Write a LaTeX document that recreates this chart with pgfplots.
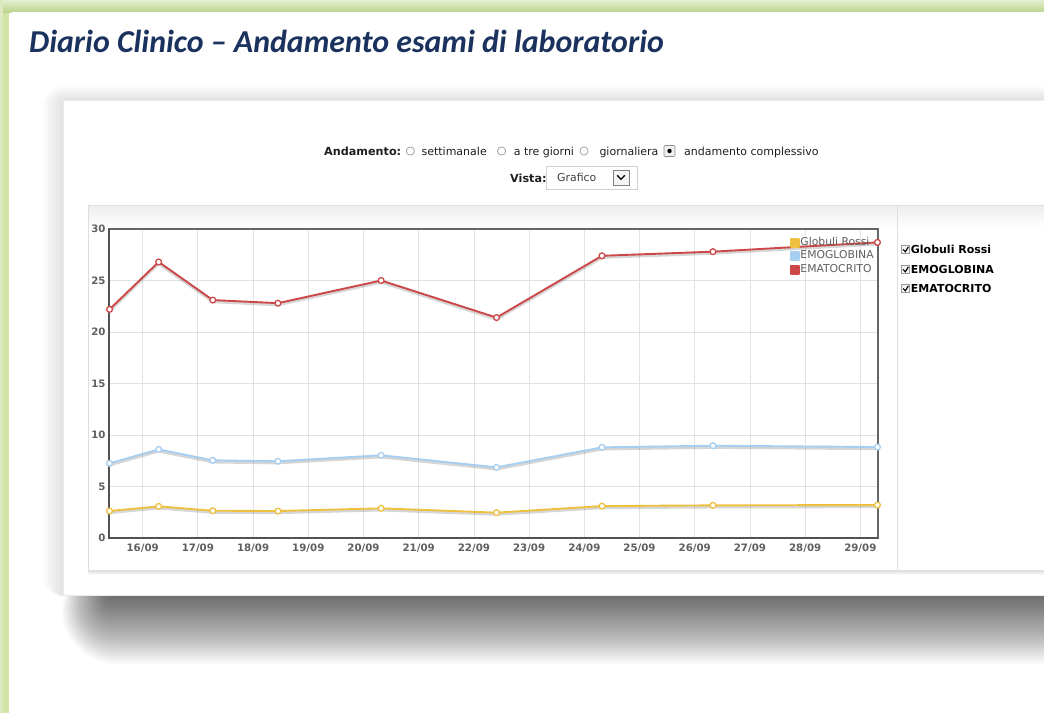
\documentclass[border=0pt]{standalone}
\usepackage{pgfplots}
\pgfplotsset{compat=1.18}
\usepackage{pgfplotstable}
\usepackage{fontspec}
\setmainfont{DejaVu Sans}
\newfontfamily\titlefont{Carlito}
\newcommand\fs[1]{\fontsize{#1}{#1}\selectfont}
\definecolor{titleblue}{RGB}{27,50,94}
\definecolor{cred}{RGB}{204,72,72}
\definecolor{cblue}{RGB}{166,206,240}
\definecolor{cyellow}{RGB}{238,192,64}
\definecolor{gline}{RGB}{226,226,226}
\definecolor{txtgray}{RGB}{95,95,95}
\definecolor{greenA}{RGB}{228,238,210}
\definecolor{greenB}{RGB}{188,213,140}
\definecolor{greenC}{RGB}{210,229,168}
\definecolor{panelborder}{RGB}{222,222,222}

\pgfplotstableread{
x y
15.40 2.62
16.29 3.07
17.27 2.65
18.45 2.62
20.32 2.88
22.41 2.46
24.32 3.10
26.33 3.17
29.31 3.20
}\globuli
\pgfplotstableread{
x y
15.40 7.25
16.29 8.60
17.27 7.54
18.45 7.45
20.32 8.03
22.41 6.86
24.32 8.80
26.33 8.96
29.31 8.83
}\emoglobina
\pgfplotstableread{
x y
15.40 22.2
16.29 26.8
17.27 23.1
18.45 22.8
20.32 25.0
22.41 21.4
24.32 27.4
26.33 27.8
29.31 28.7
}\ematocrito

\begin{document}
\begin{tikzpicture}
\useasboundingbox (0pt,0pt) rectangle (1044pt,-713pt);
\begin{scope}[x=1pt,y=-1pt]
  % page background and green frame
  \fill[white] (0,0) rectangle (1044,713);
  \fill[greenC] (0,0) rectangle (9,713);
  \shade[top color=greenA, bottom color=greenB] (0,0) rectangle (1044,12);
  \fill[greenA!60!greenC] (0,0) rectangle (3,713);
  \fill[white, rounded corners=4pt] (9,12) rectangle (1060,730);
  % title
  \node[anchor=base west, inner sep=0pt, text=titleblue] at (29,52.7)
    {\titlefont\fs{31.9}\bfseries\itshape Diario Clinico – Andamento esami di laboratorio};
  % panel shadow: soft layers
  \foreach \i in {1,...,44} {
    \fill[black, opacity=0.0142, rounded corners=1.25*\i pt]
      ({110-1.1*\i},560) rectangle (1140,{596+1.55*\i});
  }
  \foreach \i in {1,...,14} {
    \fill[black, opacity=0.008, rounded corners=1.5*\i pt]
      ({63-1.5*\i},{100-1*\i}) rectangle (1140,596);
  }
  % white panel
  \fill[white] (63,100) rectangle (1050,595);
  \draw[black!8] (63,100) rectangle (1050,595);
  % controls
  \begin{scope}[every node/.style={inner sep=0pt, anchor=base west, text=black!88}]
    \node at (324,155) {\fs{11.2}\bfseries Andamento:};
    \node at (421.4,155) {\fs{11}settimanale};
    \node at (513.6,155) {\fs{11}a tre giorni};
    \node at (599.3,155) {\fs{11}giornaliera};
    \node at (684,155) {\fs{11}andamento complessivo};
    \node at (510,182) {\fs{11.2}\bfseries Vista:};
  \end{scope}
  \foreach \cx in {410.3,501.6,584} {
    \draw[black!45, line width=0.6pt, fill=white] (\cx,151) circle (4.1pt);
  }
  \draw[black!45, fill=black!6, line width=0.6pt, rounded corners=1pt] (664,145.5) rectangle (675,156.5);
  \fill[black] (669.5,151) circle (2.2pt);
  % dropdown
  \draw[black!18, fill=white, line width=0.6pt] (546,166) rectangle (637,189);
  \node[inner sep=0pt, anchor=base west, text=black!75] at (557,181.5) {\fs{10.9}Grafico};
  \draw[black!50, fill=black!4, line width=0.6pt] (613,170) rectangle (629,185);
  \draw[black, line width=1.3pt] (617.2,175.3) -- (621,179.3) -- (624.8,175.3);
  % chart panel
  \fill[white] (88,205) rectangle (1050,570);
  \shade[top color=black!7, bottom color=white] (88,205) rectangle (1050,228);
  \shade[top color=black!14, bottom color=white] (88,570) rectangle (1050,575);
  \draw[panelborder, line width=0.8pt] (88,205) rectangle (1050,570);
  \draw[panelborder, line width=0.8pt] (897.5,205) -- (897.5,570);
  % right checkboxes
  \foreach \cy/\lab in {249.7/Globuli Rossi, 269.7/EMOGLOBINA, 288.7/EMATOCRITO} {
    \draw[black!40, fill=black!5, line width=0.5pt] (901.7,\cy-4) rectangle (909.5,\cy+3.8);
    \draw[black, line width=1.1pt] (903.1,\cy-0.3) -- (905.3,\cy+2.1) -- (908.4,\cy-2.9);
    \node[inner sep=0pt, anchor=base west, text=black] at (910.7,\cy+4) {\fs{11}\bfseries \lab};
  }
\end{scope}

\begin{axis}[
  at={(109pt,-538pt)}, anchor=south west,
  scale only axis, width=769pt, height=309pt,
  xmin=15.39, xmax=29.32, ymin=0, ymax=30,
  xtick={16,...,29},
  xticklabels={16/09,17/09,18/09,19/09,20/09,21/09,22/09,23/09,24/09,25/09,26/09,27/09,28/09,29/09},
  ytick={0,5,...,30},
  grid=major, major grid style={gline, line width=0.8pt},
  major tick length=0pt,
  axis line style={draw=black!60, line width=1.3pt},
  /pgf/number format/assume math mode=true,
  tick label style={font=\fs{10.2}\bfseries, text=txtgray},
  xticklabel style={yshift=-2.5pt},
  clip=false,
  legend cell align=left,
  legend image code/.code={\fill[#1] (0pt,-4pt) rectangle (8pt,4pt);},
  legend style={draw=none, fill=none, inner sep=0pt, row sep=0pt,
    font=\fs{10.8}, text=txtgray,
    nodes={inner sep=0.3pt, text height=8.7pt, text depth=4.2pt},
    at={(rel axis cs:0.8856,0.978)}, anchor=north west},
]
\draw[black!68, line width=2.4pt] (rel axis cs:0,1) -- (rel axis cs:0,0) -- (rel axis cs:1,0);
% line shadows
\addplot[forget plot, no marks, draw=black, opacity=0.16, line width=2.6pt, line join=round, transform canvas={yshift=-1.8pt}] table {\globuli};
\addplot[forget plot, no marks, draw=black, opacity=0.16, line width=2.6pt, line join=round, transform canvas={yshift=-1.8pt}] table {\emoglobina};
\addplot[forget plot, no marks, draw=black, opacity=0.16, line width=2.6pt, line join=round, transform canvas={yshift=-1.8pt}] table {\ematocrito};
% series
\addplot[color=cyellow, line width=1.9pt, line join=round, mark=*, mark size=2.9pt, mark options={fill=white, draw=cyellow, line width=1.3pt}] table {\globuli};
\addlegendentry{Globuli Rossi}
\addplot[color=cblue, line width=1.9pt, line join=round, mark=*, mark size=2.9pt, mark options={fill=white, draw=cblue, line width=1.3pt}] table {\emoglobina};
\addlegendentry{EMOGLOBINA}
\addplot[color=cred, line width=1.9pt, line join=round, mark=*, mark size=2.9pt, mark options={fill=white, draw=cred, line width=1.3pt}] table {\ematocrito};
\addlegendentry{EMATOCRITO}
\end{axis}
\end{tikzpicture}
\end{document}
